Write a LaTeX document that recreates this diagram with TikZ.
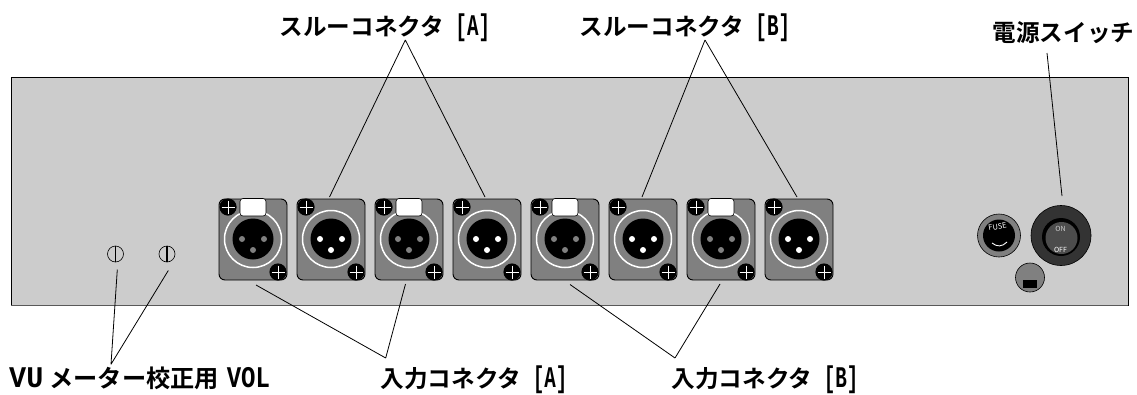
\documentclass[tikz,border=0pt]{standalone}
\usepackage{fontspec}
\setmainfont{Noto Sans CJK JP}[BoldFont={* Bold}]
\newfontfamily\latinpart{Liberation Mono}[FakeStretch=0.64]
\newfontfamily\latinmid{Liberation Mono}[FakeStretch=0.8]
\newfontfamily\latinwide{Liberation Mono}[FakeStretch=0.95]
\definecolor{panelgray}{HTML}{CCCCCC}
\definecolor{midgray}{HTML}{808080}
\definecolor{darkring}{HTML}{333333}
\newcommand{\cjklabel}[1]{{\bfseries\fontsize{23.6}{23.6}\selectfont #1}}
\newcommand{\cjkwide}[1]{{\bfseries\fontsize{24.2}{24.2}\selectfont #1}}
\newcommand{\latl}[1]{{\latinpart\bfseries\fontsize{30}{30}\selectfont #1}}
\newcommand{\latm}[1]{{\latinmid\bfseries\fontsize{30}{30}\selectfont #1}}
\newcommand{\latw}[1]{{\latinwide\bfseries\fontsize{30}{30}\selectfont #1}}
\tikzset{
  leader/.style={draw=black,line width=0.8pt},
  labeltext/.style={inner sep=0pt,anchor=base west,text=black},
  body/.style={draw=black,fill=midgray,line width=0.9pt,rounded corners=6pt},
}
\newcommand{\screw}[2]{%
  \fill[black] (#1,#2) circle[radius=8.6];
  \draw[white,line width=0.9pt] (#1-6.5,#2) -- (#1+6.5,#2) (#1,#2-6.5) -- (#1,#2+6.5);
}
\newcommand{\xlrbase}[1]{%
  \draw[body] (#1-34,199) rectangle (#1+34,280);
  \draw[white,line width=1.5pt] (#1,239) circle[radius=28.5];
  \fill[black] (#1,239) circle[radius=20.5];
  \screw{#1-25}{207}
  \screw{#1+25}{272}
}
\newcommand{\xlrin}[1]{%
  \xlrbase{#1}
  \draw[black,fill=white,line width=0.6pt,rounded corners=3pt] (#1-13,198.5) rectangle (#1+13,216);
  \foreach \dx/\dy in {-11/0,11/0,0/11}{\fill[midgray] (#1+\dx,239+\dy) circle[radius=3];}
}
\newcommand{\xlrout}[1]{%
  \xlrbase{#1}
  \foreach \dx/\dy in {-11/0,11/0,0/11}{\fill[white] (#1+\dx,239+\dy) circle[radius=3];}
}
\newcommand{\vol}[1]{%
  \draw[black,fill=panelgray,line width=0.6pt] (#1,254) circle[radius=8];
  \draw[black,line width=1.6pt] (#1,246) -- (#1,262);
}
\begin{document}
\begin{tikzpicture}[x=1pt,y=-1pt]
\useasboundingbox (0,0) rectangle (1137,394);
\draw[draw=black,fill=panelgray,line width=0.8pt] (11,77) rectangle (1128,305);
\draw[black!65,line width=1.6pt] (11,305.5) -- (1128,305.5);
\xlrin{253}\xlrout{331}\xlrin{409}\xlrout{487}\xlrin{565}\xlrout{643}\xlrin{721}\xlrout{799}
\vol{115.5}\vol{167}
% fuse
\draw[black,fill=midgray,line width=0.6pt] (999,235.5) circle[radius=21.5];
\fill[black] (999,235.5) circle[radius=16];
\node[text=white,rotate=10,inner sep=0pt] (fusetxt) at (997.5,226.5) {\fontsize{7.5}{7.5}\selectfont FUSE};
\draw[white,line width=0.9pt] (992,243) .. controls (997,247) and (1002,247) .. (1007,242);
% switch
\draw[black,fill=darkring,line width=0.6pt] (1061,235.5) circle[radius=30];
\fill[black] (1061,237) circle[radius=19];
\fill[black!70] (1061.5,238) circle[radius=16];
\node[text=panelgray,inner sep=0pt] (ontxt) at (1060.5,228.5) {\fontsize{7}{7}\selectfont ON};
\node[text=white,inner sep=0pt] (offtxt) at (1060.5,249.5) {\fontsize{7}{7}\selectfont OFF};
% inlet
\draw[black,fill=midgray,line width=0.6pt] (1030,277.5) circle[radius=14.5];
\fill[black] (1023,279.5) rectangle (1037,288);
% leaders
\coordinate (apexA) at (405.3,40);
\coordinate (apexB) at (705,40);
\coordinate (apexV) at (111,364.3);
\coordinate (apexC) at (385.7,358);
\coordinate (apexD) at (675,358);
\draw[leader] (apexA) -- (329.5,197) (apexA) -- (485,197);
\draw[leader] (apexB) -- (642,197) (apexB) -- (797,197);
\draw[leader] (1047,53) -- (1062,196);
\draw[leader] (apexV) -- (117.3,269.5) (apexV) -- (168.3,270.5);
\draw[leader] (apexC) -- (256,285) (apexC) -- (405.5,284);
\draw[leader] (apexD) -- (570,284.5) (apexD) -- (720,284);
% labels
\node[labeltext] (ta) at (279.5,35) {\cjklabel{スルーコネクタ}\latl{ [A]}};
\node[labeltext] (tb) at (579.5,35) {\cjklabel{スルーコネクタ}\latl{ [B]}};
\node[labeltext] (tp) at (992.5,41) {\cjklabel{電源スイッチ}};
\node[labeltext] (bv) at (9,387) {\latw{VU}\hspace{6pt}\cjkwide{メーター校正用}\hspace{8pt}\latm{VOL}};
\node[labeltext] (ba) at (380.5,387) {\cjklabel{入力コネクタ}\latl{ [A]}};
\node[labeltext] (bb) at (671.5,387) {\cjklabel{入力コネクタ}\latl{ [B]}};
\end{tikzpicture}
\end{document}
